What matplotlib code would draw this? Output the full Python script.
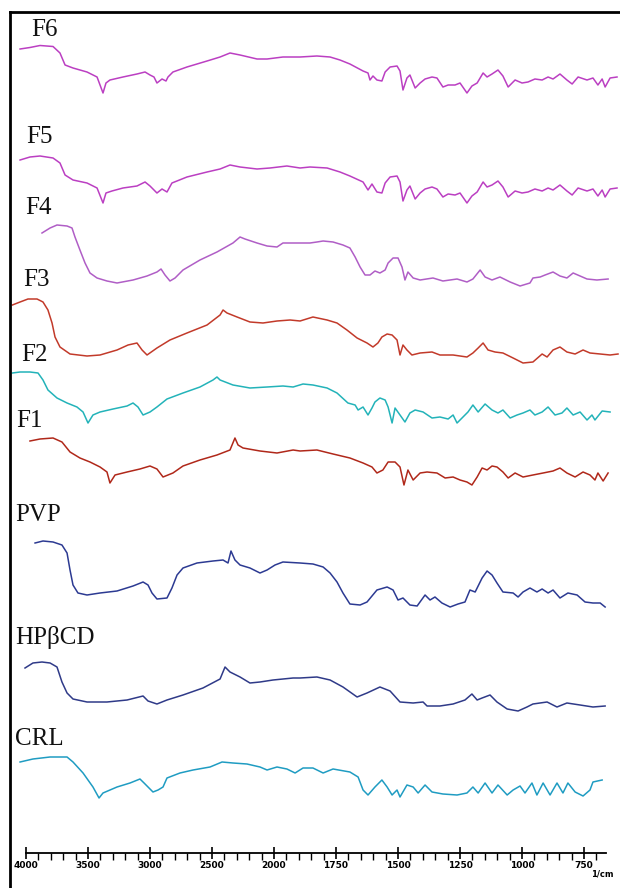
import numpy as np
import matplotlib
matplotlib.use("Agg")
import matplotlib.pyplot as plt

# FTIR spectra, stacked. wavenumber (1/cm) and transmittance (arb. units)
wn_F6 = [4048, 3968, 3887, 3782, 3726, 3685, 3621, 3508, 3427, 3379, 3355, 3323, 3218, 3105, 3040, 3000, 2968, 2944, 2903, 2871, 2855, 2815, 2702, 2540, 2435, 2355, 2274, 2137, 2056, 1964, 1895, 1827, 1774, 1734, 1694, 1641, 1621, 1613, 1601, 1585, 1565, 1552, 1532, 1504, 1492, 1480, 1464, 1452, 1431, 1411, 1391, 1363, 1343, 1319, 1298, 1270, 1250, 1222, 1202, 1181, 1157, 1141, 1121, 1097, 1077, 1056, 1028, 1000, 976, 948, 919, 895, 875, 847, 819, 798, 774, 738, 714, 694, 677, 665, 645, 617]
t_F6 = [51, 52.5, 54.5, 53.5, 47, 35, 32, 28, 23, 7, 17, 20, 23, 26, 28, 25, 23, 17, 21, 19, 23, 28, 33, 39, 43, 47, 45, 41, 41, 43, 43, 44, 43, 40, 36, 29, 27, 20, 24, 20, 19, 28, 33, 34, 29, 10, 22, 25, 12, 17, 21, 23, 22, 13, 15, 15, 17, 7, 14, 17, 27, 23, 26, 30, 24, 13, 20, 17, 18, 21, 20, 23, 21, 26, 20, 16, 23, 20, 22, 15, 21, 13, 22, 23]

wn_F5 = [4048, 3968, 3887, 3782, 3726, 3685, 3621, 3508, 3427, 3379, 3355, 3307, 3218, 3105, 3040, 3000, 2944, 2903, 2863, 2823, 2702, 2540, 2435, 2355, 2274, 2137, 2032, 1948, 1895, 1855, 1786, 1734, 1694, 1641, 1621, 1605, 1585, 1565, 1552, 1532, 1504, 1492, 1480, 1464, 1452, 1431, 1411, 1391, 1363, 1343, 1319, 1298, 1270, 1250, 1222, 1202, 1181, 1157, 1141, 1121, 1097, 1077, 1056, 1028, 1000, 976, 948, 919, 895, 875, 847, 819, 798, 774, 738, 714, 694, 677, 665, 645, 617]
t_F5 = [50, 53, 54, 52, 47, 35, 30, 27, 22, 7, 17, 19, 22, 24, 28, 24, 17, 21, 18, 27, 33, 38, 41, 45, 43, 41, 42, 44, 42, 43, 42, 38, 34, 28, 20, 26, 18, 17, 27, 33, 34, 28, 9, 20, 24, 11, 17, 21, 23, 21, 13, 16, 15, 17, 7, 14, 18, 28, 23, 25, 29, 23, 13, 19, 17, 18, 21, 19, 22, 20, 25, 19, 15, 22, 19, 21, 14, 20, 13, 21, 22]

wn_F4 = [3871, 3806, 3750, 3669, 3629, 3605, 3565, 3524, 3484, 3427, 3347, 3266, 3137, 3024, 2944, 2911, 2879, 2839, 2798, 2734, 2597, 2460, 2331, 2274, 2234, 2137, 2056, 1988, 1964, 1895, 1855, 1827, 1802, 1762, 1722, 1694, 1673, 1653, 1633, 1613, 1593, 1573, 1552, 1540, 1520, 1500, 1484, 1472, 1460, 1439, 1411, 1359, 1319, 1262, 1222, 1198, 1169, 1149, 1121, 1089, 1048, 1008, 968, 956, 927, 907, 875, 847, 819, 794, 766, 738, 698, 653]
t_F4 = [57, 62, 65, 64, 62, 53, 40, 27, 17, 12, 9, 7, 10, 14, 18, 21, 15, 9, 12, 20, 30, 38, 47, 53, 51, 47, 44, 43, 47, 47, 47, 48, 49, 48, 45, 42, 33, 23, 15, 15, 19, 17, 20, 27, 32, 32, 23, 10, 18, 12, 10, 12, 9, 11, 8, 11, 20, 13, 10, 13, 8, 4, 7, 12, 13, 15, 18, 14, 12, 17, 14, 11, 10, 11]

wn_F3 = [4110, 4048, 3984, 3911, 3863, 3823, 3790, 3766, 3726, 3645, 3508, 3403, 3266, 3177, 3105, 3064, 3024, 2944, 2839, 2702, 2540, 2435, 2411, 2379, 2298, 2194, 2089, 1988, 1935, 1895, 1843, 1786, 1746, 1706, 1665, 1625, 1601, 1581, 1565, 1544, 1524, 1504, 1492, 1480, 1464, 1444, 1411, 1363, 1331, 1278, 1222, 1198, 1177, 1157, 1137, 1109, 1077, 1036, 996, 956, 919, 899, 875, 847, 819, 786, 754, 726, 685, 645, 613]
t_F3 = [60, 63, 66, 66, 63, 55, 42, 28, 18, 11, 9, 10, 15, 20, 22, 15, 10, 17, 25, 32, 40, 50, 55, 52, 48, 43, 42, 44, 45, 44, 48, 45, 42, 35, 27, 22, 18, 22, 28, 31, 30, 25, 10, 20, 15, 10, 12, 13, 10, 10, 8, 12, 17, 22, 15, 13, 12, 7, 2, 3, 11, 8, 15, 18, 13, 11, 15, 12, 11, 10, 11]

wn_F2 = [4110, 4048, 3968, 3903, 3863, 3823, 3750, 3669, 3589, 3540, 3500, 3460, 3403, 3298, 3185, 3137, 3097, 3056, 3000, 2944, 2863, 2734, 2597, 2492, 2460, 2435, 2331, 2194, 2056, 1964, 1923, 1883, 1843, 1786, 1746, 1702, 1673, 1661, 1641, 1621, 1605, 1593, 1573, 1552, 1540, 1524, 1512, 1492, 1472, 1452, 1431, 1399, 1363, 1331, 1298, 1278, 1262, 1238, 1218, 1198, 1177, 1149, 1121, 1097, 1077, 1048, 1020, 996, 968, 948, 919, 895, 867, 839, 819, 794, 766, 738, 718, 706, 677, 645]
t_F2 = [57, 58, 58, 57, 50, 40, 32, 27, 23, 18, 7, 15, 18, 21, 24, 27, 23, 15, 18, 23, 31, 37, 43, 50, 53, 50, 45, 42, 43, 44, 43, 46, 45, 42, 37, 27, 25, 20, 23, 15, 22, 28, 32, 30, 23, 7, 22, 15, 8, 17, 20, 18, 12, 13, 11, 15, 7, 13, 18, 25, 18, 26, 20, 17, 20, 12, 15, 17, 20, 15, 18, 23, 15, 17, 22, 15, 18, 10, 15, 10, 19, 18]

wn_F1 = [3968, 3887, 3782, 3710, 3645, 3565, 3484, 3403, 3347, 3323, 3282, 3185, 3081, 3000, 2944, 2895, 2815, 2734, 2597, 2460, 2355, 2315, 2290, 2250, 2113, 1988, 1923, 1895, 1827, 1762, 1694, 1641, 1605, 1585, 1561, 1540, 1512, 1492, 1476, 1460, 1439, 1411, 1383, 1343, 1310, 1278, 1250, 1222, 1202, 1181, 1161, 1141, 1121, 1101, 1077, 1056, 1028, 996, 956, 915, 875, 847, 819, 786, 754, 726, 706, 694, 673, 653]
t_F1 = [49, 51, 52, 48, 38, 32, 28, 23, 18, 7, 15, 18, 21, 24, 21, 13, 17, 24, 30, 35, 40, 52, 45, 42, 39, 37, 40, 39, 40, 36, 32, 27, 23, 17, 20, 28, 28, 23, 5, 20, 10, 17, 18, 17, 12, 13, 10, 8, 5, 13, 22, 20, 24, 23, 18, 12, 17, 13, 15, 17, 19, 22, 17, 13, 18, 15, 10, 17, 9, 17]

wn_PVP = [3927, 3863, 3782, 3710, 3669, 3645, 3621, 3581, 3508, 3403, 3266, 3137, 3056, 3016, 2984, 2944, 2863, 2823, 2782, 2734, 2621, 2492, 2411, 2371, 2347, 2315, 2274, 2194, 2113, 2056, 1996, 1964, 1895, 1843, 1802, 1774, 1746, 1722, 1694, 1653, 1625, 1585, 1544, 1520, 1500, 1480, 1452, 1423, 1391, 1371, 1351, 1323, 1290, 1258, 1230, 1210, 1189, 1161, 1141, 1121, 1101, 1077, 1036, 1016, 996, 968, 940, 919, 895, 875, 847, 815, 778, 746, 714, 685, 665]
t_PVP = [67, 69, 68, 65, 57, 40, 25, 17, 15, 17, 19, 24, 28, 25, 17, 11, 12, 22, 35, 42, 47, 49, 50, 47, 59, 50, 45, 42, 37, 40, 45, 48, 47, 46, 43, 37, 28, 17, 6, 5, 8, 20, 23, 20, 10, 12, 5, 4, 15, 10, 13, 7, 3, 6, 8, 20, 18, 32, 39, 35, 27, 18, 17, 13, 18, 22, 18, 21, 17, 20, 12, 17, 15, 8, 7, 7, 3]

wn_HP = [4008, 3944, 3871, 3806, 3750, 3710, 3669, 3621, 3508, 3347, 3185, 3056, 3016, 2944, 2863, 2734, 2573, 2435, 2395, 2355, 2274, 2194, 2113, 2008, 1923, 1895, 1827, 1774, 1722, 1665, 1625, 1573, 1532, 1492, 1439, 1399, 1383, 1331, 1278, 1230, 1202, 1181, 1161, 1129, 1101, 1060, 1016, 980, 956, 899, 859, 819, 766, 714, 665]
t_HP = [47, 52, 53, 52, 48, 33, 22, 16, 13, 13, 15, 19, 14, 11, 15, 20, 27, 36, 48, 43, 38, 32, 33, 35, 37, 37, 38, 35, 28, 18, 22, 28, 24, 13, 12, 13, 9, 9, 11, 15, 21, 15, 17, 20, 13, 6, 4, 8, 11, 13, 8, 12, 10, 8, 9]

wn_CRL = [4048, 3944, 3806, 3669, 3621, 3540, 3460, 3411, 3379, 3266, 3161, 3081, 3048, 3016, 2976, 2935, 2895, 2863, 2758, 2653, 2516, 2419, 2331, 2218, 2113, 2056, 1988, 1948, 1915, 1883, 1843, 1802, 1762, 1694, 1661, 1641, 1621, 1593, 1565, 1544, 1524, 1504, 1492, 1464, 1439, 1419, 1391, 1363, 1319, 1262, 1222, 1198, 1177, 1149, 1121, 1097, 1060, 1036, 1008, 988, 960, 940, 915, 887, 859, 835, 815, 786, 754, 726, 714, 677]
t_CRL = [38, 41, 43, 43, 38, 27, 13, 2, 7, 13, 17, 21, 17, 13, 8, 10, 13, 22, 27, 30, 33, 38, 37, 36, 33, 30, 33, 31, 27, 32, 32, 27, 31, 28, 23, 10, 5, 13, 20, 13, 5, 10, 3, 15, 13, 7, 15, 8, 6, 5, 7, 13, 7, 17, 7, 15, 5, 10, 14, 7, 17, 5, 17, 5, 17, 7, 17, 8, 4, 10, 18, 20]

names = ["F6", "F5", "F4", "F3", "F2", "F1", "PVP", "HP\u03b2CD", "CRL"]
wns = [wn_F6, wn_F5, wn_F4, wn_F3, wn_F2, wn_F1, wn_PVP, wn_HP, wn_CRL]
ts = [t_F6, t_F5, t_F4, t_F3, t_F2, t_F1, t_PVP, t_HP, t_CRL]
colors = ["#bb3fc2", "#bb3fc2", "#b05ec6", "#c23a2a", "#23b3b9", "#b0281a",
          "#2c3a92", "#2f3a88", "#1f9cc2"]
offsets = [788, 678, 598, 523, 458, 398, 278, 173, 88]
# label positions (wavenumber of left edge, height)
label_x = [3960, 4000, 4010, 4025, 4035, 4075, 4085, 4085, 4085]
label_y = [858, 751, 680, 608, 533, 467, 373, 251, 149]

ticks = [4000, 3500, 3000, 2500, 2000, 1750, 1500, 1250, 1000, 750]
minor = [w for w in list(range(3900, 2000, -100)) + list(range(1950, 650, -50))
         if w not in ticks]


def fwd(w):
    w = np.asarray(w, dtype=float)
    return np.where(w >= 2000, (w - 2000) / 500.0, (w - 2000) / 250.0)


def inv(u):
    u = np.asarray(u, dtype=float)
    return np.where(u >= 0, 2000 + 500.0 * u, 2000 + 250.0 * u)


fig = plt.figure(figsize=(6.2, 8.88), dpi=100)
ax = fig.add_axes([10 / 620, 0, 610 / 620, 876 / 888])
ax.set_xscale("function", functions=(fwd, inv))
ax.set_xlim(4129, 605)
ax.set_ylim(0, 876)

for name, w, t, c, off, lx, ly in zip(names, wns, ts, colors, offsets, label_x, label_y):
    ax.plot(w, np.array(t) + off, color=c, lw=1.1)
    ax.text(lx, ly, name, family="Liberation Serif", fontsize=18,
            ha="left", va="center", color="#111111")

ax.spines["right"].set_visible(False)
ax.spines["left"].set_linewidth(2)
ax.spines["top"].set_linewidth(2)
ax.spines["bottom"].set_position(("data", 35))
ax.spines["bottom"].set_bounds(4000, 663)
ax.spines["bottom"].set_linewidth(1.3)

ax.set_xticks(ticks)
ax.set_xticks(minor, minor=True)
ax.set_xticklabels([str(t) for t in ticks])
ax.tick_params(axis="x", which="major", direction="inout", length=8, width=1.2,
               pad=2, labelsize=6.5)
ax.tick_params(axis="x", which="minor", direction="out", length=5, width=1.0)
ax.tick_params(axis="y", left=False, labelleft=False)
for lab in ax.get_xticklabels():
    lab.set_family(["Liberation Sans Narrow", "DejaVu Sans"])
    lab.set_fontweight("bold")
ax.text(722, 19, "1/cm", fontsize=6, fontweight="bold",
        family=["Liberation Sans Narrow", "DejaVu Sans"], ha="left", va="top")

fig.savefig("out.png", dpi=100)
